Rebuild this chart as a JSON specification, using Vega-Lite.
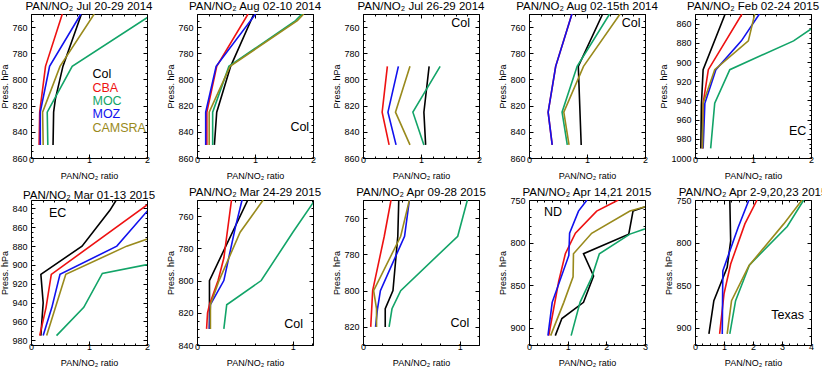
{
"$schema":"https://vega.github.io/schema/vega-lite/v6.json",
"padding":{"left":0,"top":0,"right":0,"bottom":0},
"config":{
 "font":"Liberation Sans",
 "view":{"stroke":"black","strokeWidth":1},
 "title":{"fontSize":11.5,"fontWeight":"normal","offset":-2,"frame":"group","color":"black","font":"Liberation Sans"},
 "axis":{"domain":false,"grid":false,"tickColor":"black","tickWidth":1,"labelColor":"black","titleColor":"black","labelFontSize":9,"titleFontSize":9,"titleFontWeight":"normal","labelFlush":false,"labelOverlap":false,"labelBound":false,"labelFont":"Liberation Sans","titleFont":"Liberation Sans"},
 "axisX":{"labelPadding":1.5,"titlePadding":4.5,"format":"~g"},
 "axisY":{"labelPadding":8,"titlePadding":2,"format":"d"},
 "axisTop":{"minExtent":0,"maxExtent":0},
 "axisRight":{"minExtent":0,"maxExtent":0},
 "text":{"font":"Liberation Sans"}
},
"datasets":{
"d1":[
{"m":"Col","p":750,"r":0.87},{"m":"Col","p":790,"r":0.55},{"m":"Col","p":815,"r":0.42},{"m":"Col","p":825,"r":0.39},{"m":"Col","p":850,"r":0.38},
{"m":"CBA","p":750,"r":0.54},{"m":"CBA","p":790,"r":0.25},{"m":"CBA","p":825,"r":0.15},{"m":"CBA","p":850,"r":0.14},
{"m":"MOC","p":750,"r":2.1},{"m":"MOC","p":790,"r":0.71},{"m":"MOC","p":825,"r":0.28},{"m":"MOC","p":850,"r":0.29},
{"m":"MOZ","p":750,"r":0.86},{"m":"MOZ","p":790,"r":0.32},{"m":"MOZ","p":825,"r":0.16},{"m":"MOZ","p":850,"r":0.16},
{"m":"CAMSRA","p":750,"r":1.09},{"m":"CAMSRA","p":790,"r":0.5},{"m":"CAMSRA","p":825,"r":0.2},{"m":"CAMSRA","p":850,"r":0.21}],
"d2":[
{"m":"Col","p":750,"r":0.98},{"m":"Col","p":790,"r":0.58},{"m":"Col","p":825,"r":0.34},{"m":"Col","p":850,"r":0.30},
{"m":"CBA","p":750,"r":0.88},{"m":"CBA","p":790,"r":0.34},{"m":"CBA","p":825,"r":0.17},{"m":"CBA","p":850,"r":0.17},
{"m":"MOC","p":750,"r":1.81},{"m":"MOC","p":755,"r":1.70},{"m":"MOC","p":790,"r":0.55},{"m":"MOC","p":825,"r":0.27},{"m":"MOC","p":850,"r":0.27},
{"m":"MOZ","p":750,"r":1.01},{"m":"MOZ","p":790,"r":0.33},{"m":"MOZ","p":825,"r":0.15},{"m":"MOZ","p":850,"r":0.15},
{"m":"CAMSRA","p":750,"r":1.84},{"m":"CAMSRA","p":755,"r":1.73},{"m":"CAMSRA","p":790,"r":0.57},{"m":"CAMSRA","p":825,"r":0.21},{"m":"CAMSRA","p":850,"r":0.21}],
"d3":[
{"m":"Col","p":790,"r":1.14},{"m":"Col","p":825,"r":1.05},{"m":"Col","p":850,"r":1.08},
{"m":"CBA","p":790,"r":0.42},{"m":"CBA","p":825,"r":0.33},{"m":"CBA","p":850,"r":0.45},
{"m":"MOC","p":790,"r":1.33},{"m":"MOC","p":825,"r":0.86},{"m":"MOC","p":850,"r":1.05},
{"m":"MOZ","p":790,"r":0.61},{"m":"MOZ","p":825,"r":0.43},{"m":"MOZ","p":850,"r":0.57},
{"m":"CAMSRA","p":790,"r":0.81},{"m":"CAMSRA","p":825,"r":0.56},{"m":"CAMSRA","p":850,"r":0.81}],
"d4":[
{"m":"Col","p":750,"r":1.27},{"m":"Col","p":790,"r":0.85},{"m":"Col","p":850,"r":0.90},
{"m":"CBA","p":750,"r":0.74},{"m":"CBA","p":790,"r":0.46},{"m":"CBA","p":825,"r":0.33},{"m":"CBA","p":850,"r":0.40},
{"m":"MOC","p":750,"r":1.39},{"m":"MOC","p":790,"r":0.83},{"m":"MOC","p":825,"r":0.57},{"m":"MOC","p":850,"r":0.66},
{"m":"MOZ","p":750,"r":0.74},{"m":"MOZ","p":790,"r":0.46},{"m":"MOZ","p":825,"r":0.33},{"m":"MOZ","p":850,"r":0.40},
{"m":"CAMSRA","p":750,"r":1.57},{"m":"CAMSRA","p":790,"r":0.94},{"m":"CAMSRA","p":825,"r":0.60},{"m":"CAMSRA","p":850,"r":0.69}],
"d5":[
{"m":"Col","p":850,"r":0.52},{"m":"Col","p":908,"r":0.14},{"m":"Col","p":945,"r":0.11},{"m":"Col","p":990,"r":0.10},
{"m":"CBA","p":850,"r":0.81},{"m":"CBA","p":908,"r":0.23},{"m":"CBA","p":943,"r":0.14},{"m":"CBA","p":990,"r":0.13},
{"m":"MOC","p":850,"r":2.38},{"m":"MOC","p":878,"r":1.70},{"m":"MOC","p":908,"r":0.60},{"m":"MOC","p":943,"r":0.34},{"m":"MOC","p":990,"r":0.27},
{"m":"MOZ","p":850,"r":1.11},{"m":"MOZ","p":878,"r":0.80},{"m":"MOZ","p":908,"r":0.36},{"m":"MOZ","p":943,"r":0.17},{"m":"MOZ","p":990,"r":0.14},
{"m":"CAMSRA","p":850,"r":1.03},{"m":"CAMSRA","p":878,"r":0.92},{"m":"CAMSRA","p":908,"r":0.34},{"m":"CAMSRA","p":943,"r":0.14},{"m":"CAMSRA","p":990,"r":0.13}],
"d6":[
{"m":"Col","p":831,"r":1.47},{"m":"Col","p":842,"r":1.36},{"m":"Col","p":880,"r":0.88},{"m":"Col","p":910,"r":0.17},{"m":"Col","p":940,"r":0.21},{"m":"Col","p":975,"r":0.17},
{"m":"CBA","p":831,"r":2.12},{"m":"CBA","p":910,"r":0.35},{"m":"CBA","p":945,"r":0.26},{"m":"CBA","p":975,"r":0.15},
{"m":"MOC","p":880,"r":3.6},{"m":"MOC","p":909,"r":1.23},{"m":"MOC","p":945,"r":0.91},{"m":"MOC","p":975,"r":0.44},
{"m":"MOZ","p":831,"r":2.17},{"m":"MOZ","p":880,"r":1.48},{"m":"MOZ","p":910,"r":0.5},{"m":"MOZ","p":945,"r":0.36},{"m":"MOZ","p":975,"r":0.21},
{"m":"CAMSRA","p":860,"r":2.6},{"m":"CAMSRA","p":880,"r":1.65},{"m":"CAMSRA","p":910,"r":0.6},{"m":"CAMSRA","p":975,"r":0.27}],
"d7":[
{"m":"Col","p":750,"r":0.53},{"m":"Col","p":800,"r":0.13},{"m":"Col","p":815,"r":0.13},{"m":"Col","p":830,"r":0.13},
{"m":"CBA","p":750,"r":0.36},{"m":"CBA","p":786,"r":0.28},{"m":"CBA","p":800,"r":0.22},{"m":"CBA","p":815,"r":0.13},{"m":"CBA","p":820,"r":0.11},{"m":"CBA","p":830,"r":0.10},
{"m":"MOC","p":750,"r":1.23},{"m":"MOC","p":770,"r":1.0},{"m":"MOC","p":800,"r":0.67},{"m":"MOC","p":815,"r":0.31},{"m":"MOC","p":830,"r":0.28},
{"m":"MOZ","p":750,"r":0.47},{"m":"MOZ","p":767,"r":0.40},{"m":"MOZ","p":800,"r":0.28},{"m":"MOZ","p":815,"r":0.14},{"m":"MOZ","p":830,"r":0.13},
{"m":"CAMSRA","p":750,"r":0.69},{"m":"CAMSRA","p":770,"r":0.45},{"m":"CAMSRA","p":800,"r":0.23},{"m":"CAMSRA","p":815,"r":0.14},{"m":"CAMSRA","p":830,"r":0.14}],
"d8":[
{"m":"Col","p":750,"r":0.37},{"m":"Col","p":770,"r":0.36},{"m":"Col","p":800,"r":0.31},{"m":"Col","p":810,"r":0.23},{"m":"Col","p":820,"r":0.23},
{"m":"CBA","p":750,"r":0.29},{"m":"CBA","p":770,"r":0.22},{"m":"CBA","p":800,"r":0.10},{"m":"CBA","p":820,"r":0.08},
{"m":"MOC","p":750,"r":1.08},{"m":"MOC","p":770,"r":0.98},{"m":"MOC","p":800,"r":0.39},{"m":"MOC","p":810,"r":0.30},{"m":"MOC","p":820,"r":0.27},
{"m":"MOZ","p":750,"r":0.48},{"m":"MOZ","p":770,"r":0.43},{"m":"MOZ","p":800,"r":0.18},{"m":"MOZ","p":810,"r":0.15},{"m":"MOZ","p":820,"r":0.13},
{"m":"CAMSRA","p":750,"r":0.48},{"m":"CAMSRA","p":770,"r":0.39},{"m":"CAMSRA","p":800,"r":0.11},{"m":"CAMSRA","p":810,"r":0.14},{"m":"CAMSRA","p":820,"r":0.14}],
"d9":[
{"m":"Col","p":750,"r":3.5},{"m":"Col","p":763,"r":2.69},{"m":"Col","p":790,"r":2.58},{"m":"Col","p":813,"r":1.41},{"m":"Col","p":839,"r":1.67},{"m":"Col","p":870,"r":1.41},{"m":"Col","p":889,"r":0.85},{"m":"Col","p":909,"r":0.68},
{"m":"CBA","p":750,"r":2.31},{"m":"CBA","p":763,"r":1.75},{"m":"CBA","p":789,"r":1.20},{"m":"CBA","p":813,"r":0.94},{"m":"CBA","p":845,"r":0.77},{"m":"CBA","p":909,"r":0.51},
{"m":"MOC","p":763,"r":4.3},{"m":"MOC","p":790,"r":2.61},{"m":"MOC","p":813,"r":1.82},{"m":"MOC","p":841,"r":1.62},{"m":"MOC","p":870,"r":1.32},{"m":"MOC","p":909,"r":1.09},
{"m":"MOZ","p":750,"r":1.50},{"m":"MOZ","p":763,"r":1.28},{"m":"MOZ","p":789,"r":1.05},{"m":"MOZ","p":815,"r":1.03},{"m":"MOZ","p":870,"r":0.60},{"m":"MOZ","p":909,"r":0.49},
{"m":"CAMSRA","p":750,"r":3.6},{"m":"CAMSRA","p":763,"r":2.61},{"m":"CAMSRA","p":789,"r":1.62},{"m":"CAMSRA","p":813,"r":1.15},{"m":"CAMSRA","p":840,"r":1.14},{"m":"CAMSRA","p":870,"r":0.90},{"m":"CAMSRA","p":909,"r":0.56}],
"d10":[
{"m":"Col","p":750,"r":1.20},{"m":"Col","p":798,"r":1.23},{"m":"Col","p":829,"r":1.11},{"m":"Col","p":868,"r":0.65},{"m":"Col","p":907,"r":0.48},
{"m":"CBA","p":750,"r":2.14},{"m":"CBA","p":778,"r":1.72},{"m":"CBA","p":825,"r":1.23},{"m":"CBA","p":860,"r":1.0},{"m":"CBA","p":907,"r":0.85},
{"m":"MOC","p":750,"r":3.75},{"m":"MOC","p":781,"r":3.18},{"m":"MOC","p":826,"r":1.88},{"m":"MOC","p":868,"r":1.40},{"m":"MOC","p":907,"r":1.20},
{"m":"MOZ","p":750,"r":1.86},{"m":"MOZ","p":782,"r":1.49},{"m":"MOZ","p":833,"r":0.96},{"m":"MOZ","p":907,"r":0.94},
{"m":"CAMSRA","p":750,"r":3.69},{"m":"CAMSRA","p":778,"r":3.06},{"m":"CAMSRA","p":827,"r":1.86},{"m":"CAMSRA","p":868,"r":1.26},{"m":"CAMSRA","p":907,"r":1.11}],
"a1":[{"t":"Col","m":"Col","r":1.06,"p":796},{"t":"CBA","m":"CBA","r":1.06,"p":806.3},{"t":"MOC","m":"MOC","r":1.06,"p":816.2},{"t":"MOZ","m":"MOZ","r":1.06,"p":826.2},{"t":"CAMSRA","m":"CAMSRA","r":1.06,"p":836.9}],
"a2":[{"t":"Col","r":1.61,"p":836.5}],
"a3":[{"t":"Col","r":1.52,"p":757}],
"a4":[{"t":"Col","r":1.6,"p":757}],
"a5":[{"t":"EC","r":1.62,"p":972}],
"a6":[{"t":"EC","r":0.31,"p":845}],
"a7":[{"t":"Col","r":0.91,"p":827}],
"a8":[{"t":"Col","r":0.906,"p":818}],
"a9":[{"t":"ND","r":0.385,"p":763.7}],
"a10":[{"t":"Texas","r":2.63,"p":884.6}]
},
"vconcat":[
{"hconcat":[
{"width":116,"height":144,"title":"PAN/NO₂ Jul 20-29 2014","layer":[
 {"data":{"name":"d1"},"mark":{"type":"line","clip":true,"strokeWidth":1.6},"encoding":{
  "x":{"field":"r","type":"quantitative","scale":{"domain":[0,2],"nice":false,"zero":false},"axis":{"orient":"bottom","values":[0,0.2,0.4,0.6,0.8,1,1.2,1.4,1.6,1.8,2],"labelExpr":"datum.value % 1 === 0 ? datum.label : ''","tickSize":{"condition":{"test":"datum.value % 1 === 0","value":-4},"value":-2},"title":"PAN/NO₂ ratio"}},
  "y":{"field":"p","type":"quantitative","scale":{"domain":[750,860],"reverse":true,"nice":false,"zero":false},"axis":{"orient":"left","values":[750,755,760,765,770,775,780,785,790,795,800,805,810,815,820,825,830,835,840,845,850,855,860],"labelExpr":"datum.value % 20 === 0 ? datum.label : ''","tickSize":{"condition":{"test":"datum.value % 20 === 0","value":-4},"value":-2},"title":"Press. hPa"}},
  "color":{"field":"m","type":"nominal","scale":{"domain":["Col","CBA","MOC","MOZ","CAMSRA"],"range":["#000000","#ee1111","#12a468","#1111ee","#998a1c"]},"legend":null},
  "order":{"field":"p","type":"quantitative"}}},
 {"data":{"name":"a1"},"mark":{"type":"text","align":"left","baseline":"middle","fontSize":12.5},"encoding":{
  "x":{"field":"r","type":"quantitative","axis":{"orient":"top","values":[0,0.2,0.4,0.6,0.8,1,1.2,1.4,1.6,1.8,2],"labels":false,"tickSize":{"condition":{"test":"datum.value % 1 === 0","value":-4},"value":-2},"title":null}},
  "y":{"field":"p","type":"quantitative","axis":{"orient":"right","values":[750,755,760,765,770,775,780,785,790,795,800,805,810,815,820,825,830,835,840,845,850,855,860],"labels":false,"tickSize":{"condition":{"test":"datum.value % 20 === 0","value":-4},"value":-2},"title":null}},
  "text":{"field":"t"},
  "color":{"field":"m","type":"nominal","scale":{"domain":["Col","CBA","MOC","MOZ","CAMSRA"],"range":["#000000","#ee1111","#12a468","#1111ee","#998a1c"]},"legend":null}}}
],"resolve":{"axis":{"x":"independent","y":"independent"}}},
{"width":116,"height":144,"title":"PAN/NO₂ Aug 02-10 2014","layer":[
 {"data":{"name":"d2"},"mark":{"type":"line","clip":true,"strokeWidth":1.6},"encoding":{
  "x":{"field":"r","type":"quantitative","scale":{"domain":[0,2],"nice":false,"zero":false},"axis":{"orient":"bottom","values":[0,0.2,0.4,0.6,0.8,1,1.2,1.4,1.6,1.8,2],"labelExpr":"datum.value % 1 === 0 ? datum.label : ''","tickSize":{"condition":{"test":"datum.value % 1 === 0","value":-4},"value":-2},"title":"PAN/NO₂ ratio"}},
  "y":{"field":"p","type":"quantitative","scale":{"domain":[750,860],"reverse":true,"nice":false,"zero":false},"axis":{"orient":"left","values":[750,755,760,765,770,775,780,785,790,795,800,805,810,815,820,825,830,835,840,845,850,855,860],"labelExpr":"datum.value % 20 === 0 ? datum.label : ''","tickSize":{"condition":{"test":"datum.value % 20 === 0","value":-4},"value":-2},"title":"Press. hPa"}},
  "color":{"field":"m","type":"nominal","scale":{"domain":["Col","CBA","MOC","MOZ","CAMSRA"],"range":["#000000","#ee1111","#12a468","#1111ee","#998a1c"]},"legend":null},
  "order":{"field":"p","type":"quantitative"}}},
 {"data":{"name":"a2"},"mark":{"type":"text","align":"left","baseline":"middle","fontSize":12.5,"color":"black"},"encoding":{
  "x":{"field":"r","type":"quantitative","axis":{"orient":"top","values":[0,0.2,0.4,0.6,0.8,1,1.2,1.4,1.6,1.8,2],"labels":false,"tickSize":{"condition":{"test":"datum.value % 1 === 0","value":-4},"value":-2},"title":null}},
  "y":{"field":"p","type":"quantitative","axis":{"orient":"right","values":[750,755,760,765,770,775,780,785,790,795,800,805,810,815,820,825,830,835,840,845,850,855,860],"labels":false,"tickSize":{"condition":{"test":"datum.value % 20 === 0","value":-4},"value":-2},"title":null}},
  "text":{"field":"t"}}}
],"resolve":{"axis":{"x":"independent","y":"independent"}}},
{"width":116,"height":144,"title":"PAN/NO₂ Jul 26-29 2014","layer":[
 {"data":{"name":"d3"},"mark":{"type":"line","clip":true,"strokeWidth":1.6},"encoding":{
  "x":{"field":"r","type":"quantitative","scale":{"domain":[0,2],"nice":false,"zero":false},"axis":{"orient":"bottom","values":[0,0.2,0.4,0.6,0.8,1,1.2,1.4,1.6,1.8,2],"labelExpr":"datum.value % 1 === 0 ? datum.label : ''","tickSize":{"condition":{"test":"datum.value % 1 === 0","value":-4},"value":-2},"title":"PAN/NO₂ ratio"}},
  "y":{"field":"p","type":"quantitative","scale":{"domain":[750,860],"reverse":true,"nice":false,"zero":false},"axis":{"orient":"left","values":[750,755,760,765,770,775,780,785,790,795,800,805,810,815,820,825,830,835,840,845,850,855,860],"labelExpr":"datum.value % 20 === 0 ? datum.label : ''","tickSize":{"condition":{"test":"datum.value % 20 === 0","value":-4},"value":-2},"title":"Press. hPa"}},
  "color":{"field":"m","type":"nominal","scale":{"domain":["Col","CBA","MOC","MOZ","CAMSRA"],"range":["#000000","#ee1111","#12a468","#1111ee","#998a1c"]},"legend":null},
  "order":{"field":"p","type":"quantitative"}}},
 {"data":{"name":"a3"},"mark":{"type":"text","align":"left","baseline":"middle","fontSize":12.5,"color":"black"},"encoding":{
  "x":{"field":"r","type":"quantitative","axis":{"orient":"top","values":[0,0.2,0.4,0.6,0.8,1,1.2,1.4,1.6,1.8,2],"labels":false,"tickSize":{"condition":{"test":"datum.value % 1 === 0","value":-4},"value":-2},"title":null}},
  "y":{"field":"p","type":"quantitative","axis":{"orient":"right","values":[750,755,760,765,770,775,780,785,790,795,800,805,810,815,820,825,830,835,840,845,850,855,860],"labels":false,"tickSize":{"condition":{"test":"datum.value % 20 === 0","value":-4},"value":-2},"title":null}},
  "text":{"field":"t"}}}
],"resolve":{"axis":{"x":"independent","y":"independent"}}},
{"width":116,"height":144,"title":"PAN/NO₂ Aug 02-15th 2014","layer":[
 {"data":{"name":"d4"},"mark":{"type":"line","clip":true,"strokeWidth":1.6},"encoding":{
  "x":{"field":"r","type":"quantitative","scale":{"domain":[0,2],"nice":false,"zero":false},"axis":{"orient":"bottom","values":[0,0.2,0.4,0.6,0.8,1,1.2,1.4,1.6,1.8,2],"labelExpr":"datum.value % 1 === 0 ? datum.label : ''","tickSize":{"condition":{"test":"datum.value % 1 === 0","value":-4},"value":-2},"title":"PAN/NO₂ ratio"}},
  "y":{"field":"p","type":"quantitative","scale":{"domain":[750,860],"reverse":true,"nice":false,"zero":false},"axis":{"orient":"left","values":[750,755,760,765,770,775,780,785,790,795,800,805,810,815,820,825,830,835,840,845,850,855,860],"labelExpr":"datum.value % 20 === 0 ? datum.label : ''","tickSize":{"condition":{"test":"datum.value % 20 === 0","value":-4},"value":-2},"title":"Press. hPa"}},
  "color":{"field":"m","type":"nominal","scale":{"domain":["Col","CBA","MOC","MOZ","CAMSRA"],"range":["#000000","#ee1111","#12a468","#1111ee","#998a1c"]},"legend":null},
  "order":{"field":"p","type":"quantitative"}}},
 {"data":{"name":"a4"},"mark":{"type":"text","align":"left","baseline":"middle","fontSize":12.5,"color":"black"},"encoding":{
  "x":{"field":"r","type":"quantitative","axis":{"orient":"top","values":[0,0.2,0.4,0.6,0.8,1,1.2,1.4,1.6,1.8,2],"labels":false,"tickSize":{"condition":{"test":"datum.value % 1 === 0","value":-4},"value":-2},"title":null}},
  "y":{"field":"p","type":"quantitative","axis":{"orient":"right","values":[750,755,760,765,770,775,780,785,790,795,800,805,810,815,820,825,830,835,840,845,850,855,860],"labels":false,"tickSize":{"condition":{"test":"datum.value % 20 === 0","value":-4},"value":-2},"title":null}},
  "text":{"field":"t"}}}
],"resolve":{"axis":{"x":"independent","y":"independent"}}},
{"width":116,"height":144,"title":"PAN/NO₂ Feb 02-24 2015","layer":[
 {"data":{"name":"d5"},"mark":{"type":"line","clip":true,"strokeWidth":1.6},"encoding":{
  "x":{"field":"r","type":"quantitative","scale":{"domain":[0,2],"nice":false,"zero":false},"axis":{"orient":"bottom","values":[0,0.2,0.4,0.6,0.8,1,1.2,1.4,1.6,1.8,2],"labelExpr":"datum.value % 1 === 0 ? datum.label : ''","tickSize":{"condition":{"test":"datum.value % 1 === 0","value":-4},"value":-2},"title":"PAN/NO₂ ratio"}},
  "y":{"field":"p","type":"quantitative","scale":{"domain":[850,1000],"reverse":true,"nice":false,"zero":false},"axis":{"orient":"left","values":[850,855,860,865,870,875,880,885,890,895,900,905,910,915,920,925,930,935,940,945,950,955,960,965,970,975,980,985,990,995,1000],"labelExpr":"datum.value % 20 === 0 ? datum.label : ''","tickSize":{"condition":{"test":"datum.value % 20 === 0","value":-4},"value":-2},"title":"Press. hPa"}},
  "color":{"field":"m","type":"nominal","scale":{"domain":["Col","CBA","MOC","MOZ","CAMSRA"],"range":["#000000","#ee1111","#12a468","#1111ee","#998a1c"]},"legend":null},
  "order":{"field":"p","type":"quantitative"}}},
 {"data":{"name":"a5"},"mark":{"type":"text","align":"left","baseline":"middle","fontSize":12.5,"color":"black"},"encoding":{
  "x":{"field":"r","type":"quantitative","axis":{"orient":"top","values":[0,0.2,0.4,0.6,0.8,1,1.2,1.4,1.6,1.8,2],"labels":false,"tickSize":{"condition":{"test":"datum.value % 1 === 0","value":-4},"value":-2},"title":null}},
  "y":{"field":"p","type":"quantitative","axis":{"orient":"right","values":[850,855,860,865,870,875,880,885,890,895,900,905,910,915,920,925,930,935,940,945,950,955,960,965,970,975,980,985,990,995,1000],"labels":false,"tickSize":{"condition":{"test":"datum.value % 20 === 0","value":-4},"value":-2},"title":null}},
  "text":{"field":"t"}}}
],"resolve":{"axis":{"x":"independent","y":"independent"}}}
],"spacing":50,"bounds":"flush"},
{"hconcat":[
{"width":116,"height":145,"title":"PAN/NO₂ Mar 01-13 2015","layer":[
 {"data":{"name":"d6"},"mark":{"type":"line","clip":true,"strokeWidth":1.6},"encoding":{
  "x":{"field":"r","type":"quantitative","scale":{"domain":[0,2],"nice":false,"zero":false},"axis":{"orient":"bottom","values":[0,0.2,0.4,0.6,0.8,1,1.2,1.4,1.6,1.8,2],"labelExpr":"datum.value % 1 === 0 ? datum.label : ''","tickSize":{"condition":{"test":"datum.value % 1 === 0","value":-4},"value":-2},"title":"PAN/NO₂ ratio"}},
  "y":{"field":"p","type":"quantitative","scale":{"domain":[831,985],"reverse":true,"nice":false,"zero":false},"axis":{"orient":"left","values":[835,840,845,850,855,860,865,870,875,880,885,890,895,900,905,910,915,920,925,930,935,940,945,950,955,960,965,970,975,980,985],"labelExpr":"datum.value % 20 === 0 ? datum.label : ''","tickSize":{"condition":{"test":"datum.value % 20 === 0","value":-4},"value":-2},"title":"Press. hPa"}},
  "color":{"field":"m","type":"nominal","scale":{"domain":["Col","CBA","MOC","MOZ","CAMSRA"],"range":["#000000","#ee1111","#12a468","#1111ee","#998a1c"]},"legend":null},
  "order":{"field":"p","type":"quantitative"}}},
 {"data":{"name":"a6"},"mark":{"type":"text","align":"left","baseline":"middle","fontSize":12.5,"color":"black"},"encoding":{
  "x":{"field":"r","type":"quantitative","axis":{"orient":"top","values":[0,0.2,0.4,0.6,0.8,1,1.2,1.4,1.6,1.8,2],"labels":false,"tickSize":{"condition":{"test":"datum.value % 1 === 0","value":-4},"value":-2},"title":null}},
  "y":{"field":"p","type":"quantitative","axis":{"orient":"right","values":[835,840,845,850,855,860,865,870,875,880,885,890,895,900,905,910,915,920,925,930,935,940,945,950,955,960,965,970,975,980,985],"labels":false,"tickSize":{"condition":{"test":"datum.value % 20 === 0","value":-4},"value":-2},"title":null}},
  "text":{"field":"t"}}}
],"resolve":{"axis":{"x":"independent","y":"independent"}}},
{"width":116,"height":145,"title":"PAN/NO₂ Mar 24-29 2015","layer":[
 {"data":{"name":"d7"},"mark":{"type":"line","clip":true,"strokeWidth":1.6},"encoding":{
  "x":{"field":"r","type":"quantitative","scale":{"domain":[0,1.21],"nice":false,"zero":false},"axis":{"orient":"bottom","values":[0,0.2,0.4,0.6,0.8,1,1.2],"labelExpr":"datum.value % 1 === 0 ? datum.label : ''","tickSize":{"condition":{"test":"datum.value % 1 === 0","value":-4},"value":-2},"title":"PAN/NO₂ ratio"}},
  "y":{"field":"p","type":"quantitative","scale":{"domain":[750,840],"reverse":true,"nice":false,"zero":false},"axis":{"orient":"left","values":[750,755,760,765,770,775,780,785,790,795,800,805,810,815,820,825,830,835,840],"labelExpr":"datum.value % 20 === 0 ? datum.label : ''","tickSize":{"condition":{"test":"datum.value % 20 === 0","value":-4},"value":-2},"title":"Press. hPa"}},
  "color":{"field":"m","type":"nominal","scale":{"domain":["Col","CBA","MOC","MOZ","CAMSRA"],"range":["#000000","#ee1111","#12a468","#1111ee","#998a1c"]},"legend":null},
  "order":{"field":"p","type":"quantitative"}}},
 {"data":{"name":"a7"},"mark":{"type":"text","align":"left","baseline":"middle","fontSize":12.5,"color":"black"},"encoding":{
  "x":{"field":"r","type":"quantitative","axis":{"orient":"top","values":[0,0.2,0.4,0.6,0.8,1,1.2],"labels":false,"tickSize":{"condition":{"test":"datum.value % 1 === 0","value":-4},"value":-2},"title":null}},
  "y":{"field":"p","type":"quantitative","axis":{"orient":"right","values":[750,755,760,765,770,775,780,785,790,795,800,805,810,815,820,825,830,835,840],"labels":false,"tickSize":{"condition":{"test":"datum.value % 20 === 0","value":-4},"value":-2},"title":null}},
  "text":{"field":"t"}}}
],"resolve":{"axis":{"x":"independent","y":"independent"}}},
{"width":116,"height":145,"title":"PAN/NO₂ Apr 09-28 2015","layer":[
 {"data":{"name":"d8"},"mark":{"type":"line","clip":true,"strokeWidth":1.6},"encoding":{
  "x":{"field":"r","type":"quantitative","scale":{"domain":[0,1.2],"nice":false,"zero":false},"axis":{"orient":"bottom","values":[0,0.2,0.4,0.6,0.8,1,1.2],"labelExpr":"datum.value % 1 === 0 ? datum.label : ''","tickSize":{"condition":{"test":"datum.value % 1 === 0","value":-4},"value":-2},"title":"PAN/NO₂ ratio"}},
  "y":{"field":"p","type":"quantitative","scale":{"domain":[750,830],"reverse":true,"nice":false,"zero":false},"axis":{"orient":"left","values":[750,755,760,765,770,775,780,785,790,795,800,805,810,815,820,825,830],"labelExpr":"datum.value % 20 === 0 ? datum.label : ''","tickSize":{"condition":{"test":"datum.value % 20 === 0","value":-4},"value":-2},"title":"Press. hPa"}},
  "color":{"field":"m","type":"nominal","scale":{"domain":["Col","CBA","MOC","MOZ","CAMSRA"],"range":["#000000","#ee1111","#12a468","#1111ee","#998a1c"]},"legend":null},
  "order":{"field":"p","type":"quantitative"}}},
 {"data":{"name":"a8"},"mark":{"type":"text","align":"left","baseline":"middle","fontSize":12.5,"color":"black"},"encoding":{
  "x":{"field":"r","type":"quantitative","axis":{"orient":"top","values":[0,0.2,0.4,0.6,0.8,1,1.2],"labels":false,"tickSize":{"condition":{"test":"datum.value % 1 === 0","value":-4},"value":-2},"title":null}},
  "y":{"field":"p","type":"quantitative","axis":{"orient":"right","values":[750,755,760,765,770,775,780,785,790,795,800,805,810,815,820,825,830],"labels":false,"tickSize":{"condition":{"test":"datum.value % 20 === 0","value":-4},"value":-2},"title":null}},
  "text":{"field":"t"}}}
],"resolve":{"axis":{"x":"independent","y":"independent"}}},
{"width":116,"height":145,"title":"PAN/NO₂ Apr 14,21 2015","layer":[
 {"data":{"name":"d9"},"mark":{"type":"line","clip":true,"strokeWidth":1.6},"encoding":{
  "x":{"field":"r","type":"quantitative","scale":{"domain":[0,3],"nice":false,"zero":false},"axis":{"orient":"bottom","values":[0,0.2,0.4,0.6,0.8,1,1.2,1.4,1.6,1.8,2,2.2,2.4,2.6,2.8,3],"labelExpr":"datum.value % 1 === 0 ? datum.label : ''","tickSize":{"condition":{"test":"datum.value % 1 === 0","value":-4},"value":-2},"title":"PAN/NO₂ ratio"}},
  "y":{"field":"p","type":"quantitative","scale":{"domain":[750,920],"reverse":true,"nice":false,"zero":false},"axis":{"orient":"left","values":[750,760,770,780,790,800,810,820,830,840,850,860,870,880,890,900,910,920],"labelExpr":"datum.value % 50 === 0 ? datum.label : ''","tickSize":{"condition":{"test":"datum.value % 50 === 0","value":-4},"value":-2},"title":"Press. hPa"}},
  "color":{"field":"m","type":"nominal","scale":{"domain":["Col","CBA","MOC","MOZ","CAMSRA"],"range":["#000000","#ee1111","#12a468","#1111ee","#998a1c"]},"legend":null},
  "order":{"field":"p","type":"quantitative"}}},
 {"data":{"name":"a9"},"mark":{"type":"text","align":"left","baseline":"middle","fontSize":12.5,"color":"black"},"encoding":{
  "x":{"field":"r","type":"quantitative","axis":{"orient":"top","values":[0,0.2,0.4,0.6,0.8,1,1.2,1.4,1.6,1.8,2,2.2,2.4,2.6,2.8,3],"labels":false,"tickSize":{"condition":{"test":"datum.value % 1 === 0","value":-4},"value":-2},"title":null}},
  "y":{"field":"p","type":"quantitative","axis":{"orient":"right","values":[750,760,770,780,790,800,810,820,830,840,850,860,870,880,890,900,910,920],"labels":false,"tickSize":{"condition":{"test":"datum.value % 50 === 0","value":-4},"value":-2},"title":null}},
  "text":{"field":"t"}}}
],"resolve":{"axis":{"x":"independent","y":"independent"}}},
{"width":116,"height":145,"title":"PAN/NO₂ Apr 2-9,20,23 2015","layer":[
 {"data":{"name":"d10"},"mark":{"type":"line","clip":true,"strokeWidth":1.6},"encoding":{
  "x":{"field":"r","type":"quantitative","scale":{"domain":[0,4],"nice":false,"zero":false},"axis":{"orient":"bottom","values":[0,0.25,0.5,0.75,1,1.25,1.5,1.75,2,2.25,2.5,2.75,3,3.25,3.5,3.75,4],"labelExpr":"datum.value % 1 === 0 ? datum.label : ''","tickSize":{"condition":{"test":"datum.value % 1 === 0","value":-4},"value":-2},"title":"PAN/NO₂ ratio"}},
  "y":{"field":"p","type":"quantitative","scale":{"domain":[750,920],"reverse":true,"nice":false,"zero":false},"axis":{"orient":"left","values":[750,760,770,780,790,800,810,820,830,840,850,860,870,880,890,900,910,920],"labelExpr":"datum.value % 50 === 0 ? datum.label : ''","tickSize":{"condition":{"test":"datum.value % 50 === 0","value":-4},"value":-2},"title":"Press. hPa"}},
  "color":{"field":"m","type":"nominal","scale":{"domain":["Col","CBA","MOC","MOZ","CAMSRA"],"range":["#000000","#ee1111","#12a468","#1111ee","#998a1c"]},"legend":null},
  "order":{"field":"p","type":"quantitative"}}},
 {"data":{"name":"a10"},"mark":{"type":"text","align":"left","baseline":"middle","fontSize":12.5,"color":"black"},"encoding":{
  "x":{"field":"r","type":"quantitative","axis":{"orient":"top","values":[0,0.25,0.5,0.75,1,1.25,1.5,1.75,2,2.25,2.5,2.75,3,3.25,3.5,3.75,4],"labels":false,"tickSize":{"condition":{"test":"datum.value % 1 === 0","value":-4},"value":-2},"title":null}},
  "y":{"field":"p","type":"quantitative","axis":{"orient":"right","values":[750,760,770,780,790,800,810,820,830,840,850,860,870,880,890,900,910,920],"labels":false,"tickSize":{"condition":{"test":"datum.value % 50 === 0","value":-4},"value":-2},"title":null}},
  "text":{"field":"t"}}}
],"resolve":{"axis":{"x":"independent","y":"independent"}}}
],"spacing":50,"bounds":"flush"}
],"spacing":5
}
